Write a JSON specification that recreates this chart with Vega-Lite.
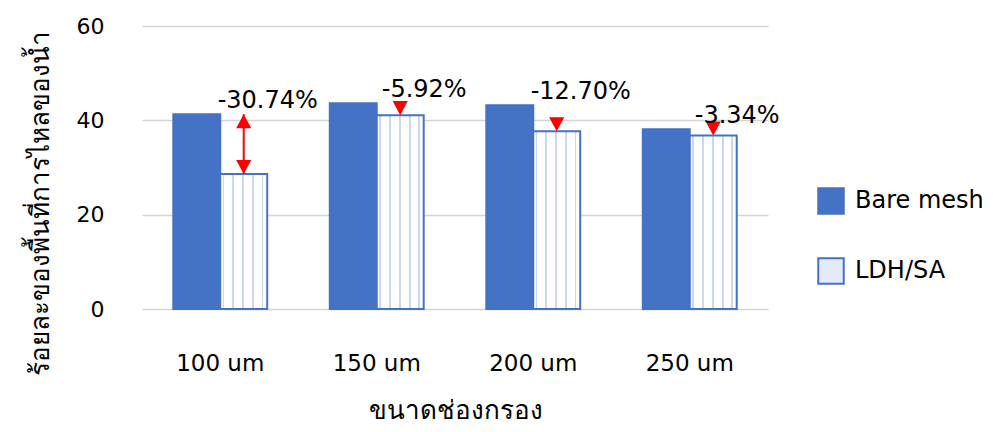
{
  "$schema": "https://vega.github.io/schema/vega-lite/v6.json",
  "width": 626,
  "height": 283,
  "autosize": {"type": "none"},
  "padding": {"left": 142, "top": 26, "right": 225, "bottom": 123},
  "background": "white",
  "config": {
    "view": {"stroke": null},
    "font": "DejaVu Sans",
    "axis": {"labelFont": "DejaVu Sans", "titleFont": "DejaVu Sans", "labelColor": "#000000", "titleColor": "#000000", "titleFontWeight": "normal"},
    "legend": {"labelFont": "DejaVu Sans", "labelColor": "#000000"}
  },
  "datasets": {
    "bars": [
      {"size": "100 um", "series": "Bare mesh", "value": 41.3},
      {"size": "100 um", "series": "LDH/SA", "value": 28.6},
      {"size": "150 um", "series": "Bare mesh", "value": 43.6},
      {"size": "150 um", "series": "LDH/SA", "value": 41.1},
      {"size": "200 um", "series": "Bare mesh", "value": 43.2},
      {"size": "200 um", "series": "LDH/SA", "value": 37.7},
      {"size": "250 um", "series": "Bare mesh", "value": 38.1},
      {"size": "250 um", "series": "LDH/SA", "value": 36.8}
    ],
    "notes": [
      {"size": "100 um", "series": "LDH/SA", "bare": 41.3, "ldh": 28.6, "change": "-30.74%"},
      {"size": "150 um", "series": "LDH/SA", "bare": 43.6, "ldh": 41.1, "change": "-5.92%"},
      {"size": "200 um", "series": "LDH/SA", "bare": 43.2, "ldh": 37.7, "change": "-12.70%"},
      {"size": "250 um", "series": "LDH/SA", "bare": 38.1, "ldh": 36.8, "change": "-3.34%"}
    ]
  },
  "encoding": {
    "x": {
      "field": "size", "type": "nominal",
      "scale": {"paddingInner": 0.4, "paddingOuter": 0.2},
      "axis": {
        "title": "ขนาดช่องกรอง", "titleFontSize": 26, "titleY": 101, "titleBaseline": "middle",
        "labelAngle": 0, "labelFontSize": 23, "labelPadding": 43, "ticks": false, "domain": false
      }
    },
    "xOffset": {"field": "series", "type": "nominal", "scale": {"paddingInner": 0, "paddingOuter": 0}}
  },
  "layer": [
    {
      "data": {"name": "bars"},
      "mark": {"type": "bar", "strokeWidth": 2, "stroke": "#4472C4"},
      "encoding": {
        "y": {
          "field": "value", "type": "quantitative",
          "scale": {"domain": [0, 60]},
          "axis": {
            "values": [0, 20, 40, 60], "title": "ร้อยละของพื้นที่การไหลของน้ำ",
            "titleFontSize": 26, "titleX": -102, "titleY": 177, "titleAngle": -90,
            "titleAlign": "center", "titleBaseline": "middle",
            "labelFontSize": 22, "labelPadding": 38, "ticks": false, "domain": false,
            "gridColor": "#d4d4d4", "gridWidth": 1.6
          }
        },
        "fill": {
          "condition": {
            "test": "datum.series === 'LDH/SA'",
            "value": {
              "gradient": "linear", "x1": 0, "x2": 1, "y1": 0, "y2": 0,
              "stops": [
                {"offset": 0, "color": "#ffffff"},
                {"offset": 0.05, "color": "#ffffff"},
                {"offset": 0.05, "color": "#cbd8f0"},
                {"offset": 0.09, "color": "#cbd8f0"},
                {"offset": 0.09, "color": "#ffffff"},
                {"offset": 0.26, "color": "#ffffff"},
                {"offset": 0.26, "color": "#cbd8f0"},
                {"offset": 0.30, "color": "#cbd8f0"},
                {"offset": 0.30, "color": "#ffffff"},
                {"offset": 0.47, "color": "#ffffff"},
                {"offset": 0.47, "color": "#cbd8f0"},
                {"offset": 0.51, "color": "#cbd8f0"},
                {"offset": 0.51, "color": "#ffffff"},
                {"offset": 0.68, "color": "#ffffff"},
                {"offset": 0.68, "color": "#cbd8f0"},
                {"offset": 0.72, "color": "#cbd8f0"},
                {"offset": 0.72, "color": "#ffffff"},
                {"offset": 0.88, "color": "#ffffff"},
                {"offset": 0.88, "color": "#cbd8f0"},
                {"offset": 0.92, "color": "#cbd8f0"},
                {"offset": 0.92, "color": "#ffffff"},
                {"offset": 1, "color": "#ffffff"}
              ]
            }
          },
          "field": "series", "type": "nominal",
          "scale": {"domain": ["Bare mesh", "LDH/SA"], "range": ["#4472C4", "#e4ebf7"]},
          "legend": {
            "title": null, "orient": "none", "legendX": 675, "legendY": 161,
            "symbolType": "square", "symbolSize": 650, "symbolStrokeWidth": 2,
            "symbolStrokeColor": "#4472C4",
            "labelFontSize": 24, "labelOffset": 10, "rowPadding": 36
          }
        }
      }
    },
    {
      "data": {"name": "notes"},
      "transform": [{"filter": "datum.size === '100 um'"}],
      "mark": {"type": "rule", "color": "#ff0000", "strokeWidth": 2},
      "encoding": {
        "y": {"field": "bare", "type": "quantitative"},
        "y2": {"field": "ldh"}
      }
    },
    {
      "data": {"name": "notes"},
      "transform": [{"filter": "datum.size === '100 um'"}],
      "mark": {"type": "point", "filled": true, "color": "#ff0000", "opacity": 1, "size": 230, "shape": "M-1,1.85L1,1.85L0,0Z"},
      "encoding": {
        "y": {"field": "bare", "type": "quantitative"}
      }
    },
    {
      "data": {"name": "notes"},
      "mark": {"type": "point", "filled": true, "color": "#ff0000", "opacity": 1, "size": 230, "shape": "M-1,-1.85L1,-1.85L0,0Z"},
      "encoding": {
        "y": {"field": "ldh", "type": "quantitative"}
      }
    },
    {
      "data": {"name": "notes"},
      "mark": {"type": "text", "fontSize": 24, "color": "#000000", "dx": 24, "dy": -13, "baseline": "middle", "align": "center"},
      "encoding": {
        "y": {"field": "bare", "type": "quantitative"},
        "text": {"field": "change"}
      }
    }
  ]
}
